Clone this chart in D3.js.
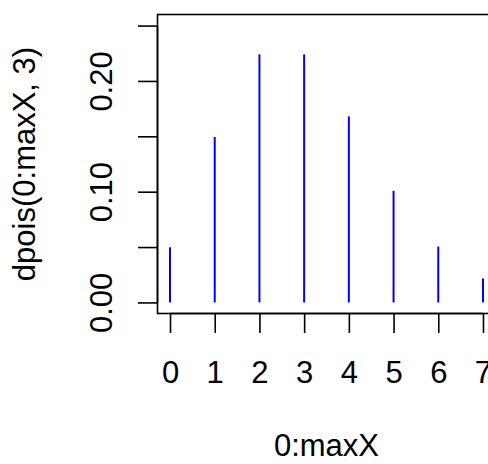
<!DOCTYPE html>
<html><head><meta charset="utf-8">
<script src="https://cdn.jsdelivr.net/npm/d3@7"></script>
<style>body{margin:0;background:#fff}</style>
</head><body>
<script>
const xs = [0,1,2,3,4,5,6,7];
const ys = [0.0498,0.1494,0.2240,0.2240,0.1680,0.1008,0.0504,0.0216];
const yTicks = [0,0.05,0.10,0.15,0.20,0.25];
const yTickLabels = ["0.00","","0.10","","0.20",""];
const xTickLabels = ["0","1","2","3","4","5","6","7"];
const xLabel = "0:maxX", yLabel = "dpois(0:maxX, 3)";

const W=488,H=464;
const L=157.5,R=495.5,T=14.5,B=313.5;
const FF="'Liberation Sans',Arial,sans-serif";
const x=d3.scaleLinear().domain([-0.28,7.28]).range([L,R]);
const y=d3.scaleLinear().domain([-0.01,0.26]).range([B,T]);
const svg=d3.select("body").append("svg").attr("width",W).attr("height",H)
  .style("font-family",FF);
const fs=31;
svg.append("rect").attr("x",L).attr("y",T).attr("width",R-L).attr("height",B-T)
  .attr("fill","none").attr("stroke","#000").attr("stroke-width",1.6);
svg.selectAll("line.h").data(xs).enter().append("line")
  .attr("x1",(d)=>x(d)).attr("x2",(d)=>x(d)).attr("y1",y(0)).attr("y2",(d,i)=>y(ys[i]))
  .attr("stroke","#0000ff").attr("stroke-width",2);
// x axis
const xa=svg.append("g").attr("transform",`translate(0,${B})`)
  .call(d3.axisBottom(x).tickValues(xs).tickFormat((d,i)=>xTickLabels[i]).tickSize(19.5).tickSizeOuter(0));
xa.select(".domain").attr("d",`M${x(0)},0H${x(7)}`).attr("stroke-width",1.6);
xa.selectAll(".tick line").attr("stroke-width",1.6);
xa.selectAll("text").attr("font-size",fs).attr("font-family",FF).attr("fill","#000")
  .attr("y",383-B).attr("dy",null);
// y axis
const ya=svg.append("g").attr("transform",`translate(${L},0)`)
  .call(d3.axisLeft(y).tickValues(yTicks).tickFormat((d,i)=>yTickLabels[i]).tickSize(19.5).tickSizeOuter(0));
ya.select(".domain").attr("d",`M0,${y(0)}V${y(0.25)}`).attr("stroke-width",1.6);
ya.selectAll(".tick line").attr("stroke-width",1.6);
ya.selectAll(".tick text").attr("font-size",fs).attr("font-family",FF).attr("fill","#000")
  .attr("x",null).attr("dy",null).attr("text-anchor","middle")
  .attr("transform",`translate(${112-L},0) rotate(-90)`);
svg.append("text").attr("x",(L+R)/2).attr("y",456).attr("text-anchor","middle").attr("font-size",fs).text(xLabel);
svg.append("text").attr("transform",`translate(35,${(T+B)/2}) rotate(-90)`).attr("text-anchor","middle").attr("font-size",fs).text(yLabel);
</script>
</body></html>
